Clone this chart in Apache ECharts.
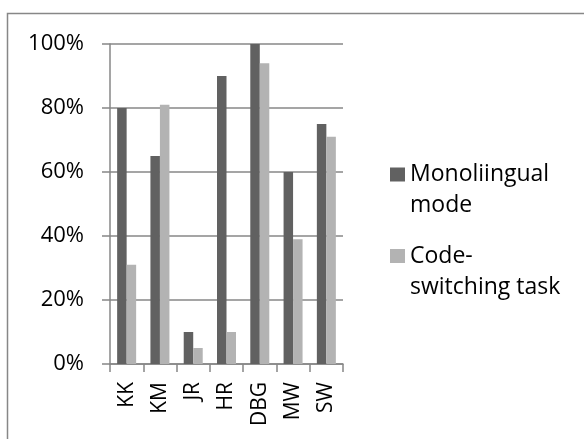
<!DOCTYPE html>
<html>
<head>
<meta charset="utf-8">
<script src="https://cdn.jsdelivr.net/npm/echarts@6/dist/echarts.min.js"></script>
<style>
html,body{margin:0;padding:0;background:#fff;}
#chart{width:584px;height:439px;}
</style>
</head>
<body>
<div id="chart"></div>
<script>
var categories = ['KK', 'KM', 'JR', 'HR', 'DBG', 'MW', 'SW'];
var monolingual = [80, 65, 10, 90, 100, 60, 75];
var codeSwitching = [31, 81, 5, 10, 94, 39, 71];
var seriesNames = ['Monoliingual\nmode', 'Code-\nswitching task'];
var yTicks = { min: 0, max: 100, interval: 20 };

var FONT = 'Open Sans';
var chart = echarts.init(document.getElementById('chart'), null, { renderer: 'canvas' });
chart.setOption({
  animation: false,
  backgroundColor: '#ffffff',
  graphic: [{
    type: 'rect',
    shape: { x: 7.5, y: 13.5, width: 700, height: 500 },
    style: { fill: 'none', stroke: '#878787', lineWidth: 1.5 },
    silent: true
  }],
  grid: { left: 110, right: 241, top: 44, bottom: 75, containLabel: false },
  legend: {
    orient: 'vertical',
    left: 385,
    top: 123,
    itemWidth: 15,
    itemHeight: 14,
    itemGap: -11.5,
    icon: 'rect',
    data: seriesNames,
    formatter: function (name) { return ' \n' + name; },
    textStyle: {
      fontFamily: FONT,
      fontSize: 23,
      color: '#000',
      lineHeight: 31
    }
  },
  xAxis: {
    type: 'category',
    data: categories,
    boundaryGap: true,
    axisLine: { show: true, lineStyle: { color: '#878787', width: 1.5 } },
    axisTick: { show: true, length: 8, alignWithLabel: false, lineStyle: { color: '#878787', width: 1.5 } },
    axisLabel: { rotate: 90, margin: 18, fontFamily: FONT, fontSize: 21, color: '#000' },
    splitLine: { show: false }
  },
  yAxis: {
    type: 'value',
    min: yTicks.min,
    max: yTicks.max,
    interval: yTicks.interval,
    axisLine: { show: true, lineStyle: { color: '#878787', width: 1.5 } },
    axisTick: { show: true, length: 8, lineStyle: { color: '#878787', width: 1.5 } },
    axisLabel: { formatter: '{value}%', margin: 26, fontFamily: FONT, fontSize: 22, color: '#000' },
    splitLine: { show: true, lineStyle: { color: '#878787', width: 1.5 } }
  },
  series: [
    {
      name: seriesNames[0],
      type: 'bar',
      data: monolingual,
      barWidth: 9.5,
      barGap: '0%',
      itemStyle: { color: '#616161' }
    },
    {
      name: seriesNames[1],
      type: 'bar',
      data: codeSwitching,
      barWidth: 9.5,
      barGap: '0%',
      itemStyle: { color: '#b3b3b3' }
    }
  ]
});
</script>
</body>
</html>
